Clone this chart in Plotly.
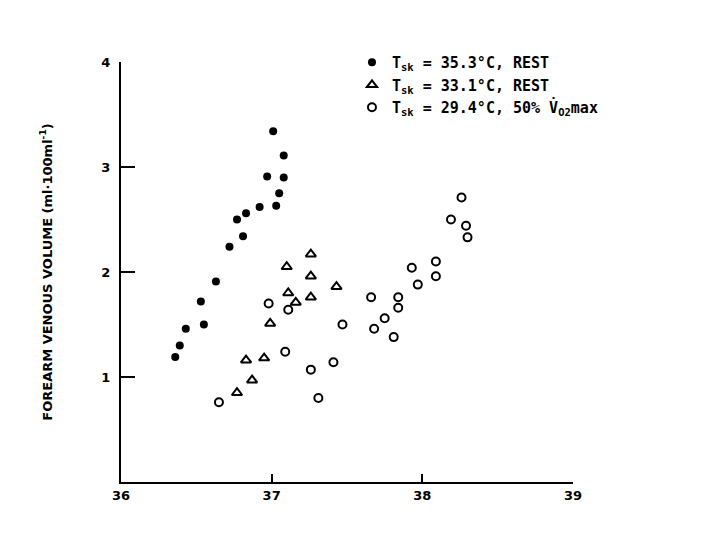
import plotly.graph_objects as go

# Series 1: Tsk = 35.3 C, REST (filled circles)
s1_x = [37.01, 37.08, 36.97, 37.08, 37.05, 36.92, 37.03, 36.83, 36.77, 36.81,
        36.72, 36.63, 36.53, 36.55, 36.43, 36.39, 36.36]
s1_y = [3.34, 3.11, 2.91, 2.90, 2.75, 2.62, 2.63, 2.56, 2.50, 2.34,
        2.24, 1.91, 1.72, 1.50, 1.46, 1.30, 1.19]

# Series 2: Tsk = 33.1 C, REST (open triangles)
s2_x = [37.26, 37.10, 37.26, 37.43, 37.11, 37.26, 37.16, 36.99, 36.83, 36.95, 36.87, 36.77]
s2_y = [2.17, 2.05, 1.96, 1.86, 1.80, 1.76, 1.71, 1.51, 1.16, 1.18, 0.97, 0.85]

# Series 3: Tsk = 29.4 C, 50% VO2max (open circles)
s3_x = [36.65, 36.98, 37.11, 37.09, 37.26, 37.31, 37.41, 37.47, 37.66, 37.84, 37.84,
        37.75, 37.68, 37.81, 37.97, 38.09, 37.93, 38.09, 38.26, 38.19, 38.29, 38.30]
s3_y = [0.76, 1.70, 1.64, 1.24, 1.07, 0.80, 1.14, 1.50, 1.76, 1.76, 1.66,
        1.56, 1.46, 1.38, 1.88, 1.96, 2.04, 2.10, 2.71, 2.50, 2.44, 2.33]

x_ticks = [36, 37, 38, 39]
y_ticks = [1, 2, 3, 4]

names = ["<b>T<sub>sk</sub> = 35.3°C, REST</b>",
         "<b>T<sub>sk</sub> = 33.1°C, REST</b>",
         "<b>T<sub>sk</sub> = 29.4°C, 50% V̇<sub>O2</sub>max</b>"]

fig = go.Figure()
fig.add_trace(go.Scatter(x=s1_x, y=s1_y, mode="markers", name=names[0],
                         marker=dict(symbol="circle", size=8, color="black")))
fig.add_trace(go.Scatter(x=s2_x, y=s2_y, mode="markers", name=names[1],
                         marker=dict(symbol="triangle-up-open", size=9, color="black",
                                     line=dict(width=2, color="black"))))
fig.add_trace(go.Scatter(x=s3_x, y=s3_y, mode="markers", name=names[2],
                         marker=dict(symbol="circle-open", size=8, color="black",
                                     line=dict(width=2, color="black"))))

fig.update_layout(
    width=720, height=540,
    margin=dict(l=113, r=155, t=54, b=66),
    paper_bgcolor="white", plot_bgcolor="white",
    font=dict(family="DejaVu Sans", size=13, color="black"),
    showlegend=True,
    legend=dict(x=0.511, y=1.038, xanchor="left", yanchor="top",
                bgcolor="rgba(0,0,0,0)",
                font=dict(family="DejaVu Sans Mono", size=15, color="black"),
                tracegroupgap=0, itemwidth=30),
    xaxis=dict(range=[36, 39], tickvals=x_ticks, ticktext=["<b>%d</b>" % t for t in x_ticks],
               showgrid=False, zeroline=False, showline=True, linecolor="black", linewidth=2,
               ticks="inside", ticklen=8, tickwidth=2, tickcolor="black", automargin=False,
               tickfont=dict(family="DejaVu Sans", size=13, color="black")),
    yaxis=dict(range=[0, 4], tickvals=y_ticks, ticktext=["<b>%d</b>" % t for t in y_ticks],
               showgrid=False, zeroline=False, showline=True, linecolor="black", linewidth=2,
               ticks="inside", ticklen=14, tickwidth=2, tickcolor="black", automargin=False,
               ticklabelstandoff=6,
               tickfont=dict(family="DejaVu Sans", size=13, color="black"),
               title=dict(text="<b>FOREARM VENOUS VOLUME (ml·100ml<sup>-1</sup>)</b>",
                          font=dict(family="DejaVu Sans", size=13, color="black"),
                          standoff=46)),
)

fig.write_html("out.html")
